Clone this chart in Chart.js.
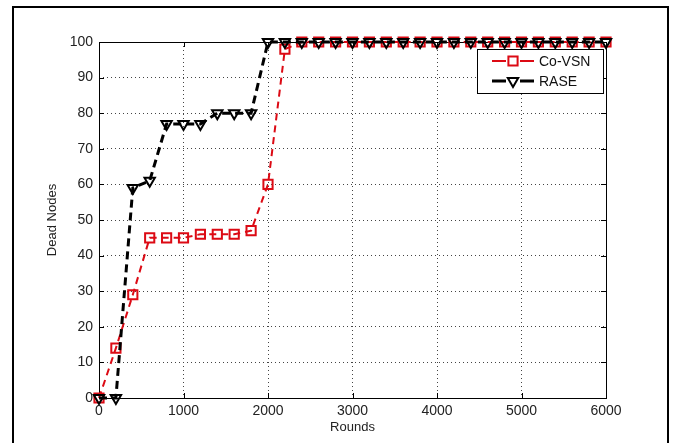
<!DOCTYPE html>
<html>
<head>
<meta charset="utf-8">
<script src="https://cdn.jsdelivr.net/npm/chart.js@4/dist/chart.umd.min.js"></script>
<style>
  html, body { margin: 0; padding: 0; background: #fff; }
  #wrap { width: 674px; height: 443px; position: relative; }
</style>
</head>
<body>
<div id="wrap"><canvas id="c" width="674" height="443"></canvas></div>
<script>
const rounds = [0,200,400,600,800,1000,1200,1400,1600,1800,2000,2200,2400,2600,2800,3000,3200,3400,3600,3800,4000,4200,4400,4600,4800,5000,5200,5400,5600,5800,6000];
const coVSN = [0,14,29,45,45,45,46,46,46,47,60,98,100,100,100,100,100,100,100,100,100,100,100,100,100,100,100,100,100,100,100];
const rase  = [0,0,59,61,77,77,77,80,80,80,100,100,100,100,100,100,100,100,100,100,100,100,100,100,100,100,100,100,100,100,100];
const seriesNames = ['Co-VSN','RASE'];
const xTicks = [0,1000,2000,3000,4000,5000,6000];
const yTicks = [0,10,20,30,40,50,60,70,80,90,100];

const RED = '#dc0a14';
const FONT = 'Liberation Sans';

const framePlugin = {
  id: 'frame',
  beforeDraw(chart) {
    const ctx = chart.ctx;
    ctx.save();
    ctx.fillStyle = '#fff';
    ctx.fillRect(0, 0, chart.width, chart.height);
    ctx.strokeStyle = '#000';
    ctx.lineWidth = 2;
    ctx.strokeRect(13, 7, 655, 460);
    ctx.restore();
  },
  beforeDatasetsDraw(chart) {
    const {ctx, chartArea: a, scales} = chart;
    ctx.save();
    ctx.strokeStyle = '#000';
    ctx.lineWidth = 1;
    ctx.setLineDash([]);
    ctx.strokeRect(Math.round(a.left) + 0.5, Math.round(a.top) + 0.5, Math.round(a.right - a.left), Math.round(a.bottom - a.top));
    ctx.beginPath();
    const tl = 5;
    scales.x.ticks.forEach(t => {
      const px = Math.round(scales.x.getPixelForValue(t.value)) + 0.5;
      ctx.moveTo(px, a.bottom); ctx.lineTo(px, a.bottom - tl);
      ctx.moveTo(px, a.top); ctx.lineTo(px, a.top + tl);
    });
    scales.y.ticks.forEach(t => {
      const py = Math.round(scales.y.getPixelForValue(t.value)) + 0.5;
      ctx.moveTo(a.left, py); ctx.lineTo(a.left + tl, py);
      ctx.moveTo(a.right, py); ctx.lineTo(a.right - tl, py);
    });
    ctx.stroke();
    ctx.restore();
  },
  afterDraw(chart) {
    const ctx = chart.ctx;
    const bx = 477, by = 49, bw = 126, bh = 44;
    ctx.save();
    ctx.fillStyle = '#fff';
    ctx.fillRect(bx, by, bw, bh);
    ctx.strokeStyle = '#000';
    ctx.lineWidth = 1;
    ctx.setLineDash([]);
    ctx.strokeRect(bx + 0.5, by + 0.5, bw, bh);
    const ds = chart.data.datasets;
    const rows = [61, 81];
    ds.forEach((d, i) => {
      const y = rows[i];
      ctx.strokeStyle = d.borderColor;
      ctx.lineWidth = d.borderWidth;
      ctx.setLineDash([]);
      ctx.beginPath();
      ctx.moveTo(492, y); ctx.lineTo(506, y);
      ctx.moveTo(520, y); ctx.lineTo(534, y);
      ctx.stroke();
      ctx.lineWidth = d.pointBorderWidth;
      ctx.fillStyle = '#fff';
      Chart.helpers.drawPoint(ctx, {pointStyle: d.pointStyle, rotation: d.pointRotation || 0, radius: d.pointRadius, borderWidth: d.pointBorderWidth}, 513, y);
      ctx.fillStyle = '#111';
      ctx.font = '14px "' + FONT + '"';
      ctx.textBaseline = 'middle';
      ctx.textAlign = 'left';
      ctx.fillText(d.label, 539, y + 1);
    });
    ctx.restore();
  }
};

new Chart(document.getElementById('c'), {
  type: 'line',
  data: {
    datasets: [
      {
        label: seriesNames[0],
        data: rounds.map((r, i) => ({x: r, y: coVSN[i]})),
        borderColor: RED,
        borderWidth: 2,
        borderDash: [7, 5],
        pointStyle: 'rect',
        pointRadius: 6.5,
        pointBorderWidth: 2,
        pointBorderColor: RED,
        pointBackgroundColor: 'rgba(0,0,0,0)',
        order: 1,
        clip: false,
        tension: 0
      },
      {
        label: seriesNames[1],
        data: rounds.map((r, i) => ({x: r, y: rase[i]})),
        borderColor: '#000',
        borderWidth: 3,
        borderDash: [8, 5],
        pointStyle: 'triangle',
        pointRotation: 180,
        pointRadius: 6,
        pointBorderWidth: 2,
        pointBorderColor: '#000',
        pointBackgroundColor: 'rgba(0,0,0,0)',
        order: 0,
        clip: false,
        tension: 0
      }
    ]
  },
  options: {
    responsive: false,
    animation: false,
    devicePixelRatio: 1,
    layout: { padding: { left: 0, top: 42, right: 68, bottom: 0 } },
    plugins: { legend: { display: false }, tooltip: { enabled: false } },
    scales: {
      x: {
        type: 'linear',
        min: 0, max: 6000,
        afterBuildTicks: s => { s.ticks = xTicks.map(v => ({value: v})); },
        afterFit: s => { s.height = 45; },
        border: { display: false, dash: [1, 3] },
        grid: { drawTicks: false, color: '#444', lineWidth: 1 },
        ticks: { padding: 5, color: '#222', font: { family: FONT, size: 14 }, maxRotation: 0, callback: v => String(v) },
        title: { display: true, text: 'Rounds', color: '#222', font: { family: FONT, size: 13 }, padding: { top: 0, bottom: 8 } }
      },
      y: {
        type: 'linear',
        min: 0, max: 100,
        afterBuildTicks: s => { s.ticks = yTicks.map(v => ({value: v})); },
        afterFit: s => { s.width = 99; },
        border: { display: false, dash: [1, 3] },
        grid: { drawTicks: false, color: '#444', lineWidth: 1 },
        ticks: { padding: 6, color: '#222', font: { family: FONT, size: 14 }, callback: v => String(v) },
        title: { display: true, text: 'Dead Nodes', color: '#222', font: { family: FONT, size: 13 }, padding: { top: 45, bottom: 0 } }
      }
    }
  },
  plugins: [framePlugin]
});
</script>
</body>
</html>
